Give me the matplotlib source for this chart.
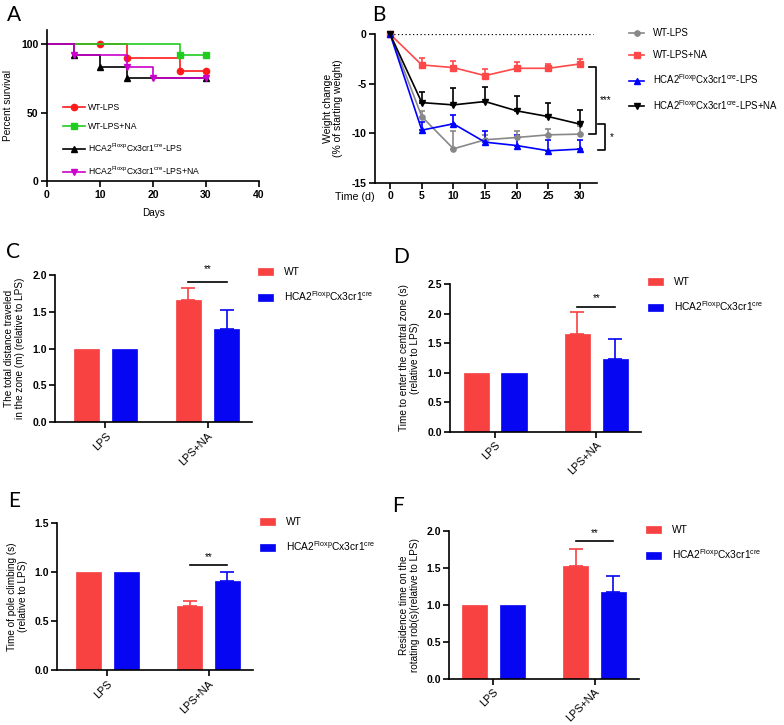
import numpy as np
import matplotlib
matplotlib.use("Agg")
import matplotlib.pyplot as plt
from matplotlib.lines import Line2D
from matplotlib.transforms import blended_transform_factory

plt.rcParams['font.family'] = ['Liberation Sans', 'DejaVu Sans']
plt.rcParams['mathtext.fontset'] = 'custom'
plt.rcParams['mathtext.rm'] = 'Liberation Sans'
plt.rcParams['mathtext.it'] = 'Liberation Sans:italic'
plt.rcParams['mathtext.bf'] = 'Liberation Sans:bold'

W, H = 784, 725
fig = plt.figure(figsize=(W / 100, H / 100), dpi=100)

HCA = r'HCA2$^{\mathrm{Floxp}}$Cx3cr1$^{\mathrm{cre}}$'

# ---------------- Panel A data (survival) ----------------
surv_labels = ['WT-LPS', 'WT-LPS+NA', HCA + '-LPS', HCA + '-LPS+NA']
surv_colors = ['#FF1A1A', '#1FCC1F', '#000000', '#CC00CC']
surv_markers = ['o', 's', '^', 'v']
surv_times = [[0, 15, 25, 30], [0, 25, 30], [0, 5, 10, 15, 30], [0, 5, 15, 20, 30]]
surv_values = [[100, 90, 80, 80], [100, 91.7, 91.7], [100, 91.7, 83.3, 75, 75],
               [100, 91.7, 83.3, 75, 75]]
surv_mark_days = [[10, 15, 25, 30], [25, 30], [5, 10, 15, 30], [5, 15, 20, 30]]

# ---------------- Panel B data (weight change) ----------------
wc_days = [0, 5, 10, 15, 20, 25, 30]
wc_labels = ['WT-LPS', 'WT-LPS+NA', HCA + '-LPS', HCA + '-LPS+NA']
wc_colors = ['#888888', '#FF4848', '#0000FF', '#000000']
wc_markers = ['o', 's', '^', 'v']
wc_wt_lps = [0, -8.3, -11.55, -10.64, -10.41, -10.14, -10.07]
wc_wt_lps_err = [0, 0.57, 1.81, 0.5, 0.61, 0.6, 0.77]
wc_wt_lps_na = [0, -3.09, -3.36, -4.17, -3.43, -3.43, -2.99]
wc_wt_lps_na_err = [0, 0.67, 0.67, 0.68, 0.67, 0.41, 0.5]
wc_hca_lps = [0, -9.67, -9.03, -10.88, -11.22, -11.75, -11.58]
wc_hca_lps_err = [0, 0.87, 0.9, 1.14, 1.08, 1.11, 0.94]
wc_hca_lps_na = [0, -6.89, -7.12, -6.78, -7.72, -8.3, -9.06]
wc_hca_lps_na_err = [0, 1.11, 1.68, 1.47, 1.47, 1.35, 1.44]

# ---------------- Bar panels data ----------------
groups = ['LPS', 'LPS+NA']
bar_labels = ['WT', HCA]
C_wt, C_wt_err = [1.0, 1.66], [0, 0.165]
C_hca, C_hca_err = [1.0, 1.262], [0, 0.265]
D_wt, D_wt_err = [1.0, 1.648], [0, 0.372]
D_hca, D_hca_err = [1.0, 1.225], [0, 0.35]
E_wt, E_wt_err = [1.0, 0.653], [0, 0.055]
E_hca, E_hca_err = [1.0, 0.91], [0, 0.09]
F_wt, F_wt_err = [1.0, 1.53], [0, 0.23]
F_hca, F_hca_err = [1.0, 1.178], [0, 0.208]

RED = '#F84141'
BLUE = '#0606F2'
TICK_FS = 7.5
LAB_FS = 7.2


def add_axes_px(left, top, right, bottom):
    return fig.add_axes([left / W, 1 - bottom / H, (right - left) / W, (bottom - top) / H])


def style_axes(ax):
    for s in ['top', 'right']:
        ax.spines[s].set_visible(False)
    for s in ['left', 'bottom']:
        ax.spines[s].set_linewidth(1.2)
    ax.tick_params(width=1.2, length=4, labelsize=TICK_FS, pad=2)
    for lab in ax.get_xticklabels() + ax.get_yticklabels():
        lab.set_fontweight('bold')


def panel_letter(x, y_base, s):
    fig.text(x / W, 1 - y_base / H, s, fontsize=15, family='Lato', va='baseline', ha='left')


# ---------------- Panel A ----------------
axA = add_axes_px(47, 30, 259, 181.3)
for t, v, md, c, m, lab in zip(surv_times, surv_values, surv_mark_days, surv_colors,
                               surv_markers, surv_labels):
    axA.step(t, v, where='post', color=c, lw=1.2, clip_on=False)
    idx = np.searchsorted(t, md, side='right') - 1
    axA.plot(md, np.array(v)[idx], ls='none', marker=m, color=c, ms=4.5, clip_on=False)
axA.set_xlim(0, 40)
axA.set_ylim(0, 110)
axA.set_xticks([0, 10, 20, 30, 40])
axA.set_yticks([0, 50, 100])
axA.set_xlabel('Days', fontsize=LAB_FS, labelpad=6)
axA.set_ylabel('Percent survival', fontsize=LAB_FS, labelpad=6)
style_axes(axA)
handlesA = [Line2D([], [], color=c, marker=m, ms=4.5, lw=1.2)
            for c, m in zip(surv_colors, surv_markers)]
axA.legend(handlesA, surv_labels, loc='upper left', bbox_to_anchor=(63 / W, 1 - 103 / H),
           bbox_transform=fig.transFigure, frameon=False, fontsize=6.2, handlelength=2.6,
           handletextpad=0.3, labelspacing=1.2, borderpad=0, borderaxespad=0)
panel_letter(7, 21, 'A')

# ---------------- Panel B ----------------
axB = add_axes_px(375, 34.3, 597, 183)
series = [(wc_wt_lps, wc_wt_lps_err), (wc_wt_lps_na, wc_wt_lps_na_err),
          (wc_hca_lps, wc_hca_lps_err), (wc_hca_lps_na, wc_hca_lps_na_err)]
for (vals, err), c, m in zip(series, wc_colors, wc_markers):
    vals = np.array(vals)
    err = np.array(err)
    axB.errorbar(wc_days, vals, yerr=[np.zeros_like(err), err], color=c, marker=m, ms=3.8,
                 lw=1.2, elinewidth=1.2, capsize=2.5, capthick=1.2, clip_on=False)
axB.axhline(0, xmin=0.068, xmax=0.98, color='black', ls=(0, (1, 2)), lw=0.9)
axB.set_xlim(-2.4, 32.7)
axB.set_ylim(-15, 0)
axB.set_xticks(wc_days)
axB.set_yticks([-15, -10, -5, 0])
axB.set_yticklabels(['-15', '-10', '-5', '0'])
axB.set_ylabel('Weight change\n(% of starting weight)', fontsize=LAB_FS + 0.3, labelpad=6,
               linespacing=1.1)
style_axes(axB)
axB.text(-0.09, -0.095, 'Time (d)', transform=axB.transAxes, fontsize=LAB_FS + 0.5,
         ha='center', va='center')
trB = blended_transform_factory(fig.transFigure, axB.transData)


def bracket(x_right, x_left, y_top, y_bot, label, lab_x):
    axB.plot([x_left / W, x_right / W, x_right / W, x_left / W], [y_top, y_top, y_bot, y_bot],
             transform=trB, color='black', lw=1.2, clip_on=False)
    axB.text(lab_x / W, (y_top + y_bot) / 2, label, transform=trB, fontsize=7,
             ha='left', va='center')


bracket(596, 589, wc_wt_lps_na[-1] - 0.27, wc_wt_lps[-1], '***', 600)
bracket(605, 598, wc_hca_lps_na[-1], wc_hca_lps[-1] - 0.07, '*', 610)
handlesB = [Line2D([], [], color=c, marker=m, ms=3.8, lw=1.2)
            for c, m in zip(wc_colors, wc_markers)]
axB.legend(handlesB, wc_labels, loc='upper left', bbox_to_anchor=(629 / W, 1 - 28 / H),
           bbox_transform=fig.transFigure, frameon=False, fontsize=6.95, handlelength=1.6,
           handletextpad=0.85, labelspacing=1.25, borderpad=0, borderaxespad=0)
panel_letter(372, 21, 'B')


# ---------------- Bar panels ----------------
def bar_panel(box, xlim, wt, wt_err, hca, hca_err, ylim, ystep, ylabel, sig_y, star_y,
              leg_xy, letter, letter_xy):
    ax = add_axes_px(*box)
    x = np.arange(len(groups))
    w, off = 0.248, 0.187
    ax.bar(x - off, wt, width=w, color=RED, edgecolor=RED, lw=0.5, label=bar_labels[0])
    ax.bar(x + off, hca, width=w, color=BLUE, edgecolor=BLUE, lw=0.5, label=bar_labels[1])
    for xs, vals, err, c in [(x - off, wt, wt_err, RED), (x + off, hca, hca_err, BLUE)]:
        err = np.array(err)
        mask = err > 0
        ax.errorbar(xs[mask], np.array(vals)[mask], yerr=[np.zeros(mask.sum()), err[mask]],
                    fmt='none', ecolor=c, elinewidth=1.2, capsize=5, capthick=1.2)
    ax.plot([x[1] - off, x[1] + off], [sig_y, sig_y], color='black', lw=1.2)
    ax.text(x[1], star_y, '**', fontsize=7, ha='center', va='center')
    ax.set_xlim(*xlim)
    ax.set_ylim(*ylim)
    ticks = np.arange(ylim[0], ylim[1] + 1e-9, ystep)
    ax.set_yticks(ticks)
    ax.set_yticklabels([f'{v:.1f}' for v in ticks])
    ax.set_xticks(x)
    ax.set_xticklabels(groups)
    ax.set_ylabel(ylabel, fontsize=LAB_FS, labelpad=5, linespacing=1.1)
    style_axes(ax)
    for lab in ax.get_xticklabels():
        lab.set_rotation(45)
        lab.set_ha('right')
        lab.set_rotation_mode('anchor')
        lab.set_fontweight('normal')
        lab.set_fontsize(7.8)
    ax.legend(loc='upper left', bbox_to_anchor=(leg_xy[0] / W, 1 - leg_xy[1] / H),
              bbox_transform=fig.transFigure, frameon=False, fontsize=7.4,
              handlelength=1.5, handleheight=0.6, handletextpad=1.0, labelspacing=1.2,
              borderpad=0, borderaxespad=0)
    panel_letter(letter_xy[0], letter_xy[1], letter)
    return ax


bar_panel((55, 275, 252, 422.3), (-0.495, 1.436), C_wt, C_wt_err, C_hca, C_hca_err,
          (0, 2.0), 0.5, 'The total distance traveled\nin the zone (m) (relative to LPS)',
          1.90, 2.08, (258, 267), 'C', (6, 258))
bar_panel((450, 284, 640.7, 431.7), (-0.446, 1.44), D_wt, D_wt_err, D_hca, D_hca_err,
          (0, 2.5), 0.5, 'Time to enter the central zone (s)\n(relative to LPS)',
          2.115, 2.27, (648, 277), 'D', (393, 263))
bar_panel((57.3, 522.7, 253, 670.3), (-0.496, 1.44), E_wt, E_wt_err, E_hca, E_hca_err,
          (0, 1.5), 0.5, 'Time of pole climbing (s)\n(relative to LPS)',
          1.07, 1.15, (260, 517), 'E', (8, 507))
bar_panel((449.3, 531, 639.3, 678.7), (-0.436, 1.443), F_wt, F_wt_err, F_hca, F_hca_err,
          (0, 2.0), 0.5, 'Residence time on the\nrotating rob(s)(relative to LPS)',
          1.865, 1.97, (646, 525), 'F', (392, 512))

fig.savefig('out.png', dpi=100)
